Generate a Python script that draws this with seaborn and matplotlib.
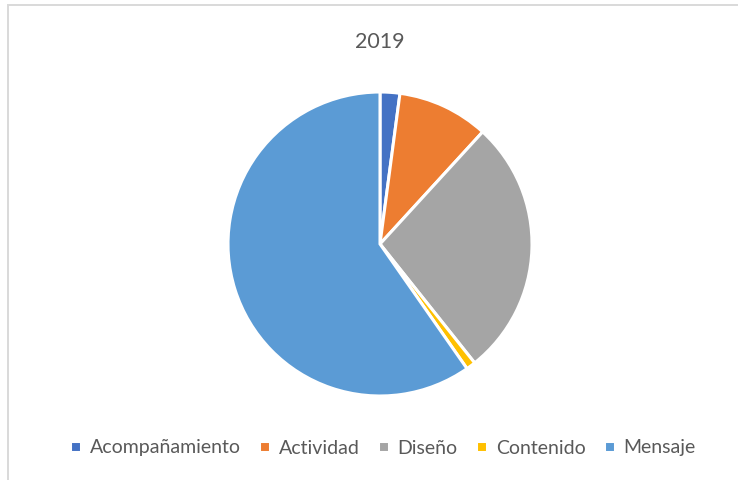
import numpy as np
import matplotlib
matplotlib.use("Agg")
import matplotlib.pyplot as plt
from matplotlib.patches import Rectangle
import seaborn as sns

# datos
categorias = ["Acompañamiento", "Actividad", "Diseño", "Contenido", "Mensaje"]
valores = [2.1, 9.7, 27.5, 1.0, 59.7]
colores = ["#4472C4", "#ED7D31", "#A5A5A5", "#FFC000", "#5B9BD5"]

sns.set_theme(style="white")
plt.rcParams['font.family'] = ['Lato', 'DejaVu Sans']

fig = plt.figure(figsize=(7.38, 4.8), dpi=100)
W, H = 738, 480

# marco del grafico (sin borde inferior visible)
fig.patches.append(Rectangle((8 / W, -20 / H), 740 / W, 495 / H, transform=fig.transFigure,
                             fill=False, edgecolor="#D9D9D9", linewidth=1.4))

cx, cy, r = 380, 244, 152
ax = fig.add_axes([(cx - r) / W, 1 - (cy + r) / H, 2 * r / W, 2 * r / H])
wedges, _ = ax.pie(valores, colors=sns.color_palette(colores), startangle=90, counterclock=False,
                   wedgeprops=dict(edgecolor="white", linewidth=2.2))
ax.set_xlim(-1, 1)
ax.set_ylim(-1, 1)
ax.set_aspect("equal")
ax.axis("off")

fig.text(380 / W, 1 - 42 / H, "2019", ha="center", va="center", fontsize=15.5, color="#595959")

fig.legend(wedges, categorias, loc="center", bbox_to_anchor=(383 / W, 1 - 448 / H), ncol=5,
           frameon=False, fontsize=14, labelcolor="#595959", handlelength=0.55, handleheight=0.55,
           handletextpad=0.45, columnspacing=0.95)

fig.savefig("out.png", dpi=100)
